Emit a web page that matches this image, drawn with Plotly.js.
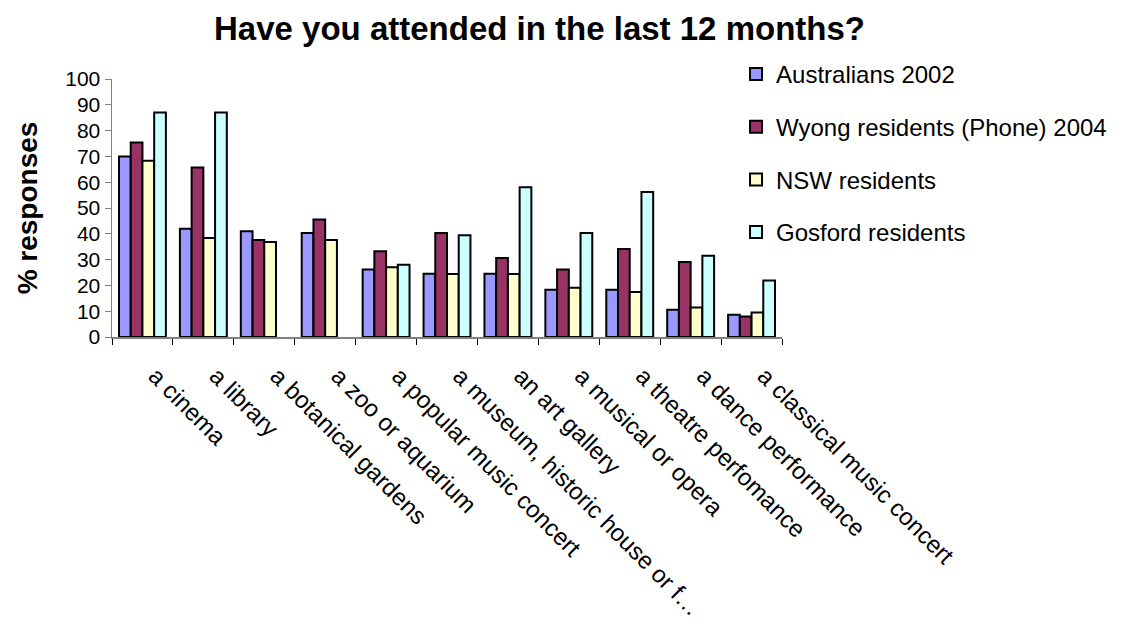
<!DOCTYPE html>
<html>
<head>
<meta charset="utf-8">
<script src="https://cdn.plot.ly/plotly-3.0.1.min.js"></script>
<style>html,body{margin:0;padding:0;background:#fff;}#chart{width:1123px;height:624px;}</style>
</head>
<body>
<div id="chart"></div>
<script>
const categories = ["a cinema", "a library", "a botanical gardens", "a zoo or aquarium", "a popular music concert", "a museum, historic house or f…", "an art gallery", "a musical or opera", "a theatre perfomance", "a dance performance", "a classical music concert"];
const australians2002 = [70, 42, 41, 40.3, 26.2, 24.5, 24.5, 18.3, 18.3, 10.6, 8.6];
const wyongPhone2004 = [75.4, 65.7, 37.6, 45.5, 33.2, 40.3, 30.6, 26.2, 34.1, 29.1, 7.9];
const nswResidents = [68.3, 38.4, 36.8, 37.6, 27.0, 24.4, 24.4, 19.1, 17.4, 11.4, 9.5];
const gosfordResidents = [87, 87, null, null, 28.0, 39.4, 58.0, 40.3, 56.2, 31.5, 21.9];
const seriesNames = ["Australians 2002", "Wyong residents (Phone) 2004", "NSW residents", "Gosford residents"];
const seriesColors = ["#9999FF", "#993366", "#FFFFCC", "#CCFFFF"];
const seriesValues = [australians2002, wyongPhone2004, nswResidents, gosfordResidents];

const FONT = "Liberation Sans, Arial, sans-serif";
const traces = seriesValues.map((vals, i) => ({
  type: "bar",
  name: seriesNames[i],
  x: categories,
  y: vals,
  legendgroup: "g" + i,
  marker: {color: seriesColors[i], line: {color: "#000000", width: 2}},
  hoverinfo: "x+y+name"
}));

const layout = {
  width: 1123,
  height: 624,
  margin: {l: 112, r: 340, t: 79, b: 287},
  paper_bgcolor: "#ffffff",
  plot_bgcolor: "#ffffff",
  font: {family: FONT, color: "#000000", size: 20},
  title: {text: "<b>Have you attended in the last 12 months?</b>", font: {family: FONT, size: 33, color: "#000"}, x: 0.4804, xanchor: "center", y: 0.955, yanchor: "middle"},
  barmode: "group",
  bargap: 0.23,
  bargroupgap: 0,
  showlegend: true,
  legend: {
    x: 0.930, xanchor: "left", y: 1.105, yanchor: "top",
    font: {family: FONT, size: 24, color: "#000"},
    traceorder: "grouped",
    tracegroupgap: 18.5,
    bgcolor: "rgba(0,0,0,0)",
    itemwidth: 30
  },
  xaxis: {
    type: "category",
    automargin: false,
    showline: true, linecolor: "#808080", linewidth: 1.5,
    ticks: "outside", tickson: "boundaries", ticklen: 6, tickcolor: "#000", tickwidth: 1,
    tickangle: 45,
    ticklabelstandoff: 14,
    ticklabelshift: 13,
    tickfont: {family: FONT, size: 24, color: "#000"},
    showgrid: false, zeroline: false
  },
  yaxis: {
    range: [0, 100],
    automargin: false,
    dtick: 10, tick0: 0,
    showline: true, linecolor: "#808080", linewidth: 1.5,
    ticks: "outside", ticklen: 6, tickcolor: "#808080",
    tickfont: {family: FONT, size: 21, color: "#000"},
    showgrid: false, zeroline: false,
    title: {text: "<b>% responses</b>", font: {family: FONT, size: 28, color: "#000"}, standoff: 19}
  }
};

Plotly.newPlot("chart", traces, layout, {staticPlot: true});
</script>
</body>
</html>
